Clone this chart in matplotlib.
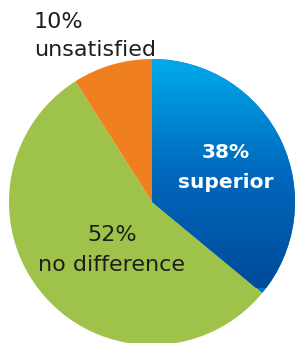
import matplotlib
matplotlib.use("Agg")
import matplotlib.pyplot as plt
import numpy as np
from matplotlib.colors import LinearSegmentedColormap

categories = ["superior", "no difference", "unsatisfied"]
label_pct = ["38%", "52%", "10%"]
shares = [36, 55, 9]  # wedge sizes as drawn
colors = ["#0077c8", "#9fc34a", "#f0801f"]

W, H = 296, 343
fig = plt.figure(figsize=(W / 100, H / 100), dpi=100)
ax = fig.add_axes([0, 0, 1, 1])

cx, cy, r = 152, H - 202, 143
wedges, _ = ax.pie(shares, colors=colors, startangle=90, counterclock=False,
                   center=(cx, cy), radius=r, frame=True,
                   wedgeprops=dict(linewidth=0))

# gradient in the blue wedge
cmap = LinearSegmentedColormap.from_list("b", ["#00aaea", "#0068bc", "#004a9a"])
grad = np.linspace(0, 1, 256).reshape(-1, 1)
im = ax.imshow(grad, cmap=cmap, extent=(cx - r, cx + r, cy - r * 0.6, cy + r),
               origin="upper", aspect="auto", zorder=2)
im.set_clip_path(wedges[0])
ax.set_xlim(0, W)
ax.set_ylim(0, H)
ax.set_aspect("equal")
ax.axis("off")

fam = ["DejaVu Sans"]
fs = 16
ax.text(34, H - 22, label_pct[2], fontsize=fs, color="#1e1e1e", ha="left", va="center", family=fam)
ax.text(34, H - 50, categories[2], fontsize=fs, color="#1e1e1e", ha="left", va="center", family=fam)
ax.text(226, H - 152, label_pct[0], fontsize=14.5, color="white", ha="center", va="center", weight="bold", family=fam, zorder=5)
ax.text(226, H - 182, categories[0], fontsize=14.5, color="white", ha="center", va="center", weight="bold", family=fam, zorder=5)
ax.text(112, H - 235, label_pct[1], fontsize=fs, color="#1e1e1e", ha="center", va="center", family=fam, zorder=5)
ax.text(112, H - 265, categories[1], fontsize=fs, color="#1e1e1e", ha="center", va="center", family=fam, zorder=5)

fig.savefig("out.png", dpi=100)
